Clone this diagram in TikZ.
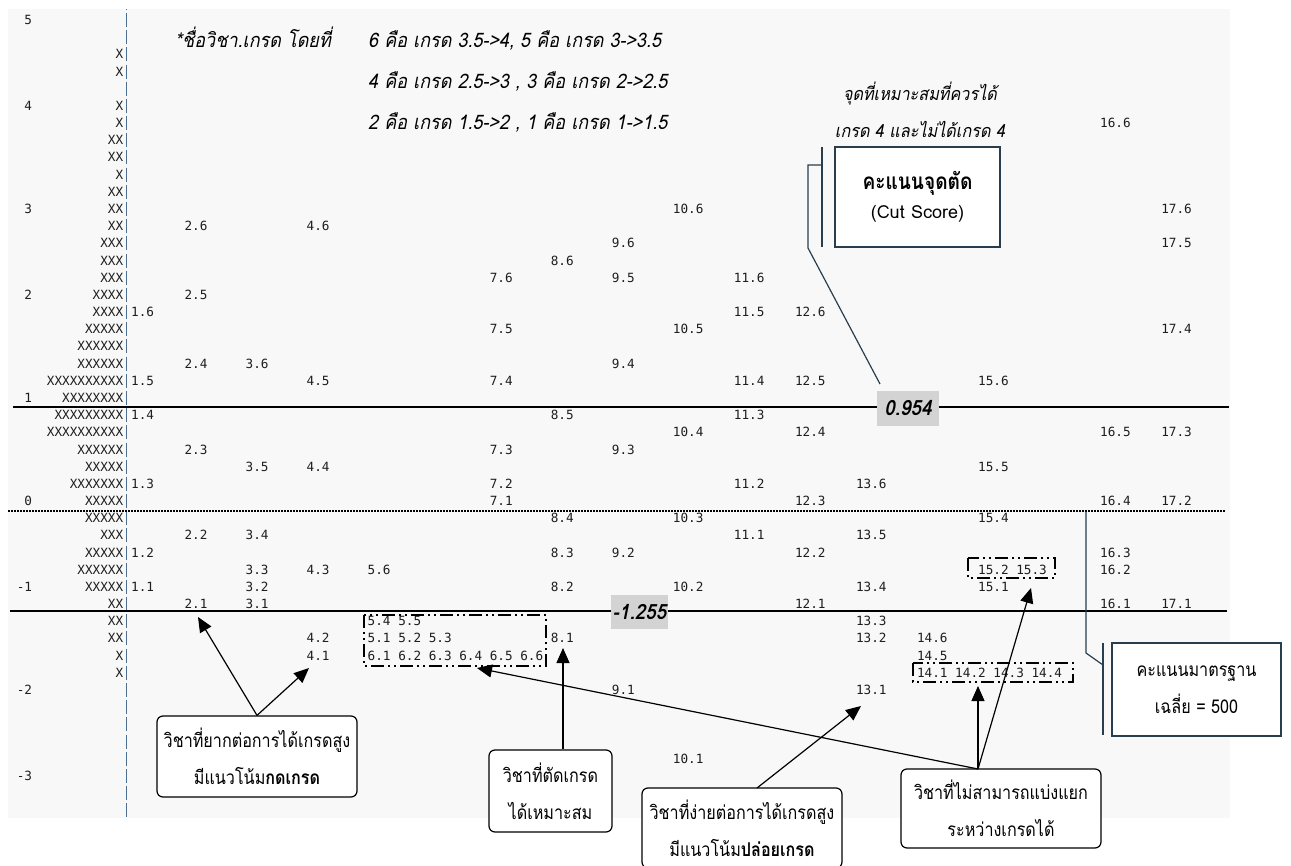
\documentclass[tikz,border=0pt]{standalone}
\usepackage{fontspec}
\setmonofont{DejaVu Sans Mono}
\newfontfamily\thai[Script=Thai,FakeStretch=0.85]{Loma}
\newfontfamily\thaiwide[Script=Thai]{Loma}
\newfontfamily\thaiit[Script=Thai,FakeSlant=0.2,FakeStretch=0.9]{Loma}
\usetikzlibrary{arrows.meta}
\definecolor{bggray}{RGB}{248,248,248}
\definecolor{axisc}{RGB}{75,110,145}
\definecolor{slate}{RGB}{40,62,78}
\definecolor{lblgray}{RGB}{211,211,211}
\definecolor{numc}{RGB}{30,30,30}
\tikzset{
  num/.style={font=\ttfamily\fontsize{12.67bp}{15bp}\selectfont, text=numc, anchor=base west, inner sep=0pt},
  xs/.style={num, anchor=base east},
  topit/.style={font=\thaiit\fontsize{20bp}{22bp}\selectfont, anchor=base west, inner sep=0pt},
  smit/.style={font=\thaiit\fontsize{18bp}{20bp}\selectfont, anchor=base, inner sep=0pt},
  callbox/.style={draw=black, line width=1.2bp, rounded corners=6bp, fill=white, align=center,
    font=\thai\fontsize{19bp}{37bp}\selectfont, inner sep=0pt},
  sqbox/.style={draw=slate, line width=1.3bp, fill=white, align=center, inner sep=0pt},
  arr/.style={line width=1.2bp, -{Triangle[length=15bp,width=13bp]}},
  ddbox/.style={line width=2bp, dash pattern=on 13bp off 4bp on 2bp off 4bp on 2bp off 4bp},
  lbl/.style={fill=lblgray, font=\thaiit\bfseries\fontsize{21bp}{22bp}\selectfont, inner sep=0pt},
  leader/.style={draw=slate, line width=1.2bp},
}
\begin{document}
\begin{tikzpicture}[x=1bp,y=-1bp]
\useasboundingbox[fill=white] (0,0) rectangle (1291,866);
\fill[bggray] (8,9) rectangle (1230,818);

% axis bar
\draw[axisc, line width=1.3bp, dash pattern=on 14bp off 3.18bp, dash phase=13.18bp] (126.5,9) -- (126.5,818);

% scale labels
\foreach \r/\t in {0/5,5/4,11/3,16/2,22/1,28/0}
  \node[num] (s\r) at (24.2,{24.5+17.18*\r}) {\t};
\foreach \r/\t in {33/-1,39/-2,44/-3}
  \node[num] (s\r) at (16.6,{24.5+17.18*\r}) {\t};

% persons
\foreach \r/\x in {2/X,3/X,5/X,6/X,7/XX,8/XX,9/X,10/XX,11/XX,12/XX,13/XXX,14/XXX,15/XXX,16/XXXX,17/XXXX,18/XXXXX,19/XXXXXX,20/XXXXXX,21/XXXXXXXXXX,22/XXXXXXXX,23/XXXXXXXXX,24/XXXXXXXXXX,25/XXXXXX,26/XXXXX,27/XXXXXXX,28/XXXXX,29/XXXXX,30/XXX,31/XXXXX,32/XXXXXX,33/XXXXX,34/XX,35/XX,36/XX,37/X,38/X}
  \node[xs] (x\r) at (123.4,{24.5+17.18*\r}) {\x};

% lines
\draw[line width=2bp] (13,407) -- (1229,407);
\draw[line width=1.8bp, dash pattern=on 1.6bp off 1.4bp] (8,511) -- (1226,511);
\draw[line width=2bp] (10,611) -- (1227,611);

% items
\foreach \c/\r/\t in {0/17/1.6,0/21/1.5,0/23/1.4,0/27/1.3,0/31/1.2,0/33/1.1,
 7/12/2.6,7/16/2.5,7/20/2.4,7/25/2.3,7/30/2.2,7/34/2.1,
 15/20/3.6,15/26/3.5,15/30/3.4,15/32/3.3,15/33/3.2,15/34/3.1,
 23/12/4.6,23/21/4.5,23/26/4.4,23/32/4.3,23/36/4.2,23/37/4.1,
 31/32/5.6,31/35/5.4,35/35/5.5,31/36/5.1,35/36/5.2,39/36/5.3,
 31/37/6.1,35/37/6.2,39/37/6.3,43/37/6.4,47/37/6.5,51/37/6.6,
 47/15/7.6,47/18/7.5,47/21/7.4,47/25/7.3,47/27/7.2,47/28/7.1,
 55/14/8.6,55/23/8.5,55/29/8.4,55/31/8.3,55/33/8.2,55/36/8.1,
 63/13/9.6,63/15/9.5,63/20/9.4,63/25/9.3,63/31/9.2,63/39/9.1,
 71/11/10.6,71/18/10.5,71/24/10.4,71/29/10.3,71/33/10.2,71/43/10.1,
 79/15/11.6,79/17/11.5,79/21/11.4,79/23/11.3,79/27/11.2,79/30/11.1,
 87/17/12.6,87/21/12.5,87/24/12.4,87/28/12.3,87/31/12.2,87/34/12.1,
 95/27/13.6,95/30/13.5,95/33/13.4,95/35/13.3,95/36/13.2,95/39/13.1,
 103/36/14.6,103/37/14.5,103/38/14.1,108/38/14.2,113/38/14.3,118/38/14.4,
 111/21/15.6,111/26/15.5,111/29/15.4,111/32/15.2,116/32/15.3,111/33/15.1,
 127/6/16.6,127/24/16.5,127/28/16.4,127/31/16.3,127/32/16.2,127/34/16.1,
 135/11/17.6,135/13/17.5,135/18/17.4,135/24/17.3,135/28/17.2,135/34/17.1}
  \node[num] (v\c-\r) at ({131+7.63*\c},{24.5+17.18*\r}) {\t};

% dash-dot-dot groups
\draw[ddbox] (364,615) rectangle (546,666);
\draw[ddbox] (968,558) rectangle (1055,578);
\draw[ddbox] (913,663) rectangle (1073,682);

% cut labels
\node[lbl, minimum width=62bp, minimum height=35bp] (cutA) at (908,408.5) {0.954};
\node[lbl, minimum width=57bp, minimum height=34bp] (cutB) at (639.5,612) {-1.255};

% top notes
\node[topit] (note0) at (175,47) {*ชื่อวิชา.เกรด โดยที่};
\node[topit] (note1) at (368,47) {6 คือ เกรด 3.5->4, 5 คือ เกรด 3->3.5};
\node[topit] (note2) at (368,88) {4 คือ เกรด 2.5->3 , 3 คือ เกรด 2->2.5};
\node[topit] (note3) at (368,129) {2 คือ เกรด 1.5->2 , 1 คือ เกรด 1->1.5};
\node[smit] (fit1) at (920,100) {จุดที่เหมาะสมที่ควรได้};
\node[smit] (fit2) at (920,137) {เกรด 4 และไม่ได้เกรด 4};

% cut score box with accent callout
\node[sqbox, minimum width=165bp, minimum height=100bp] (cutbox) at (917.5,197)
  {{\thai\bfseries\fontsize{22.5bp}{24bp}\selectfont คะแนนจุดตัด}\\[9bp]{\thaiwide\fontsize{18bp}{18bp}\selectfont (Cut Score)}};
\coordinate (cbA) at (822,147);
\coordinate (cbB) at (822,247);
\coordinate (cbJ) at (822,165);
\coordinate (cbK) at (808,165);
\coordinate (cbL) at (808,248);
\coordinate (cbT) at (880,384);
\draw[leader] (cbA) -- (cbB);
\draw[leader] (cbJ) -- (cbK) -- (cbL) -- (cbT);

% standard score box with accent callout
\node[sqbox, minimum width=169bp, minimum height=93bp] (stdbox) at (1196.5,689.5)
  {{\thai\fontsize{19bp}{20bp}\selectfont คะแนนมาตรฐาน}\\[11bp]{\thai\fontsize{19bp}{20bp}\selectfont เฉลี่ย = 500}};
\coordinate (sbA) at (1103,643);
\coordinate (sbB) at (1103,735);
\coordinate (sbJ) at (1103,665);
\coordinate (sbK) at (1086,653);
\coordinate (sbT) at (1086,512);
\draw[leader] (sbA) -- (sbB);
\draw[leader] (sbJ) -- (sbK) -- (sbT);

% callout boxes
\node[callbox, minimum width=200bp, minimum height=81bp] (boxA) at (257,756.5)
  {วิชาที่ยากต่อการได้เกรดสูง\\มีแนวโน้ม{\bfseries กดเกรด}};
\node[callbox, minimum width=123bp, minimum height=82bp] (boxB) at (550.5,791)
  {วิชาที่ตัดเกรด\\ได้เหมาะสม};
\node[callbox, minimum width=200bp, minimum height=80bp] (boxC) at (742,828)
  {วิชาที่ง่ายต่อการได้เกรดสูง\\มีแนวโน้ม{\bfseries ปล่อยเกรด}};
\node[callbox, minimum width=200bp, minimum height=79bp] (boxD) at (1001,808.5)
  {วิชาที่ไม่สามารถแบ่งแยก\\ระหว่างเกรดได้};

% arrows
\coordinate (tA1) at (198,617);
\coordinate (tA2) at (309,668);
\coordinate (tB) at (563,648);
\coordinate (sC) at (757,788);
\coordinate (tC) at (861,706);
\coordinate (sD) at (978,769);
\coordinate (tD1) at (978,686);
\coordinate (tD2) at (1031,588);
\coordinate (tD3) at (477,668);
\draw[arr] (boxA.north) -- (tA1);
\draw[arr] (boxA.north) -- (tA2);
\draw[arr] (tB |- boxB.north) -- (tB);
\draw[arr] (sC) -- (tC);
\draw[arr] (sD) -- (tD1);
\draw[arr] (sD) -- (tD2);
\draw[arr] (sD) -- (tD3);
\end{tikzpicture}
\end{document}
